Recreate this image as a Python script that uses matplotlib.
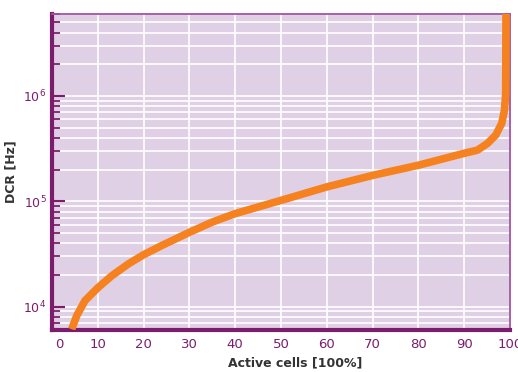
import matplotlib.pyplot as plt
from matplotlib.ticker import LogLocator, NullFormatter
from matplotlib.transforms import ScaledTranslation

# curve
active = [4.3, 5.4, 7.2, 10.0, 13.1, 16.7, 20.0, 24.0, 30.1, 35.0, 40.0,
          50.0, 60.0, 70.2, 80.0, 89.9, 92.9, 95.1, 96.9, 98.2, 98.8, 99.06,
          99.12]
dcr = [6.1e3, 8.2e3, 1.14e4, 1.51e4, 1.97e4, 2.55e4, 3.11e4, 3.81e4, 5.1e4,
       6.35e4, 7.64e4, 1.02e5, 1.37e5, 1.77e5, 2.2e5, 2.85e5, 3.06e5, 3.55e5,
       4.26e5, 5.5e5, 7.36e5, 1.06e6, 6.0e6]
xticks = [0, 10, 20, 30, 40, 50, 60, 70, 80, 90, 100]

purple = '#7b1d6c'
light = '#a453a0'
bg = '#e0d0e5'
orange = '#f5821f'

fig = plt.figure(figsize=(5.18, 3.72), dpi=100)
ax = fig.add_axes([52/518, 42/372, 458/518, 316/372])
ax.set_facecolor(bg)

ax.set_yscale('log')
ax.set_xlim(0, 100)
ax.set_ylim(6e3, 6e6)

ax.plot(active, dcr, color=orange, lw=5.5, solid_capstyle='butt',
        solid_joinstyle='round', zorder=3)

ax.set_xticks(xticks)
ax.yaxis.set_major_locator(LogLocator(base=10, numticks=10))
ax.yaxis.set_minor_locator(LogLocator(base=10, subs=range(2, 10), numticks=10))
ax.yaxis.set_minor_formatter(NullFormatter())

ax.grid(True, which='both', axis='y', color='white', lw=1.2)
ax.grid(True, which='major', axis='x', color='white', lw=1.2)
ax.set_axisbelow(True)

ax.tick_params(axis='y', which='major', direction='in', length=9, width=1.5,
               color=purple, labelcolor=purple, labelsize=9, pad=4)
ax.tick_params(axis='y', which='minor', direction='in', length=6, width=1.3,
               color=purple)
ax.tick_params(axis='x', which='both', length=0, labelcolor=purple,
               labelsize=9.5, pad=6)

# first x label sits a bit right of the spine in the reference
lbl0 = ax.get_xticklabels()[0]
lbl0.set_transform(lbl0.get_transform() + ScaledTranslation(7/100, 0, fig.dpi_scale_trans))

for s in ['left', 'bottom']:
    ax.spines[s].set_color(purple)
    ax.spines[s].set_linewidth(3)
for s in ['top', 'right']:
    ax.spines[s].set_color(light)
    ax.spines[s].set_linewidth(1.3)

ax.set_xlabel('Active cells [100%]', fontsize=9, fontweight='bold', color='#333333')
ax.xaxis.set_label_coords(0.53, -0.085)
ax.set_ylabel('DCR [Hz]', fontsize=9, fontweight='bold', color='#333333')
ax.yaxis.set_label_coords(-0.075, 0.5)

fig.savefig('out.png', dpi=100, facecolor='white')
